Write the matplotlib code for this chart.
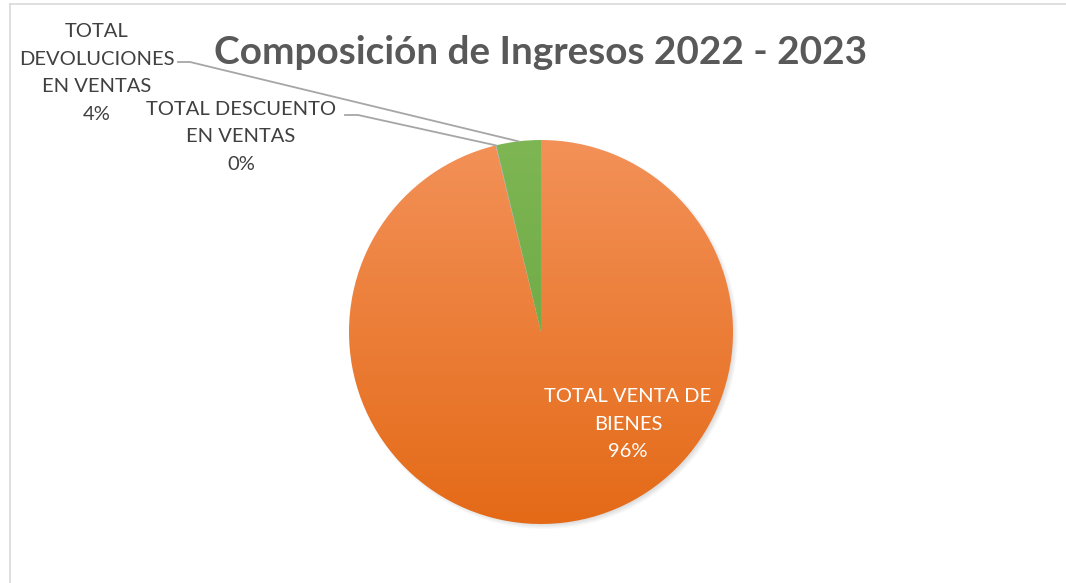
import numpy as np
import matplotlib
matplotlib.use("Agg")
import matplotlib.pyplot as plt
from matplotlib.patches import Wedge
from matplotlib.colors import LinearSegmentedColormap

categories = ["TOTAL VENTA DE\nBIENES", "TOTAL DESCUENTO\nEN VENTAS", "TOTAL\nDEVOLUCIONES\nEN VENTAS"]
values = [96.2, 0.05, 3.75]
title = "Composición de Ingresos 2022 - 2023"

W, H = 1066, 583
fig = plt.figure(figsize=(W / 100, H / 100), dpi=100)
ax = fig.add_axes([0, 0, 1, 1])
ax.set_xlim(0, W)
ax.set_ylim(0, H)
ax.set_aspect("equal")
ax.axis("off")

# chart border (left and top visible)
ax.plot([9.5, 9.5], [0, H - 3.5], color="#d9d9d9", lw=1.2)
ax.plot([9.5, W], [H - 3.5, H - 3.5], color="#d9d9d9", lw=1.2)

cx, cy, r = 541, H - 332, 192
total = sum(values)
fracs = [v / total for v in values]

grads = [("#F39158", "#E46A17"), ("#A5A5A5", "#8C8C8C"), ("#7DB653", "#66A23E")]

# soft shadow
for k in range(6):
    sh = Wedge((cx + 3, cy - 3), r + 2 - k, 0, 360, color="#000000", alpha=0.025, lw=0)
    ax.add_patch(sh)

angle = 90.0
mids = []
for f, (c1, c2) in zip(fracs, grads):
    th2 = angle
    th1 = angle - f * 360
    w = Wedge((cx, cy), r, th1, th2, lw=0, facecolor="none")
    ax.add_patch(w)
    cmap = LinearSegmentedColormap.from_list("g", [c2, c1])
    grad = np.linspace(0, 1, 256).reshape(-1, 1)
    im = ax.imshow(grad, cmap=cmap, extent=[cx - r, cx + r, cy - r, cy + r],
                   origin="lower", aspect="auto", zorder=2)
    im.set_clip_path(w)
    mids.append(np.deg2rad((th1 + th2) / 2))
    angle = th1

txt_kw = dict(fontsize=14.5, family="Lato", ha="center", va="center", linespacing=1.76)
pct = [f"{round(f * 100):.0f}%" for f in fracs]

# Bienes label inside
ax.text(628, H - 424, categories[0] + "\n" + pct[0], color="white", zorder=5, **txt_kw)

# Descuento label with leader
ax.text(241, H - 137, categories[1] + "\n" + pct[1], color="#404040", zorder=5, **txt_kw)
a = mids[1]
px, py = cx + r * np.cos(a), cy + r * np.sin(a)
ax.plot([345, 358, px], [H - 115, H - 115, py], color="#a6a6a6", lw=1.3, zorder=4)

# Devoluciones label with leader
ax.text(97, H - 73, categories[2] + "\n" + pct[2], color="#404040", zorder=5, **txt_kw)
a = mids[2]
px, py = cx + r * np.cos(a), cy + r * np.sin(a)
ax.plot([178, 190, px], [H - 62, H - 62, py], color="#a6a6a6", lw=1.3, zorder=4)

ax.text(541, H - 53, title, fontsize=27.9, family="Lato", fontweight="bold",
        color="#595959", ha="center", va="center", zorder=5)

fig.savefig("out.png", dpi=100)
